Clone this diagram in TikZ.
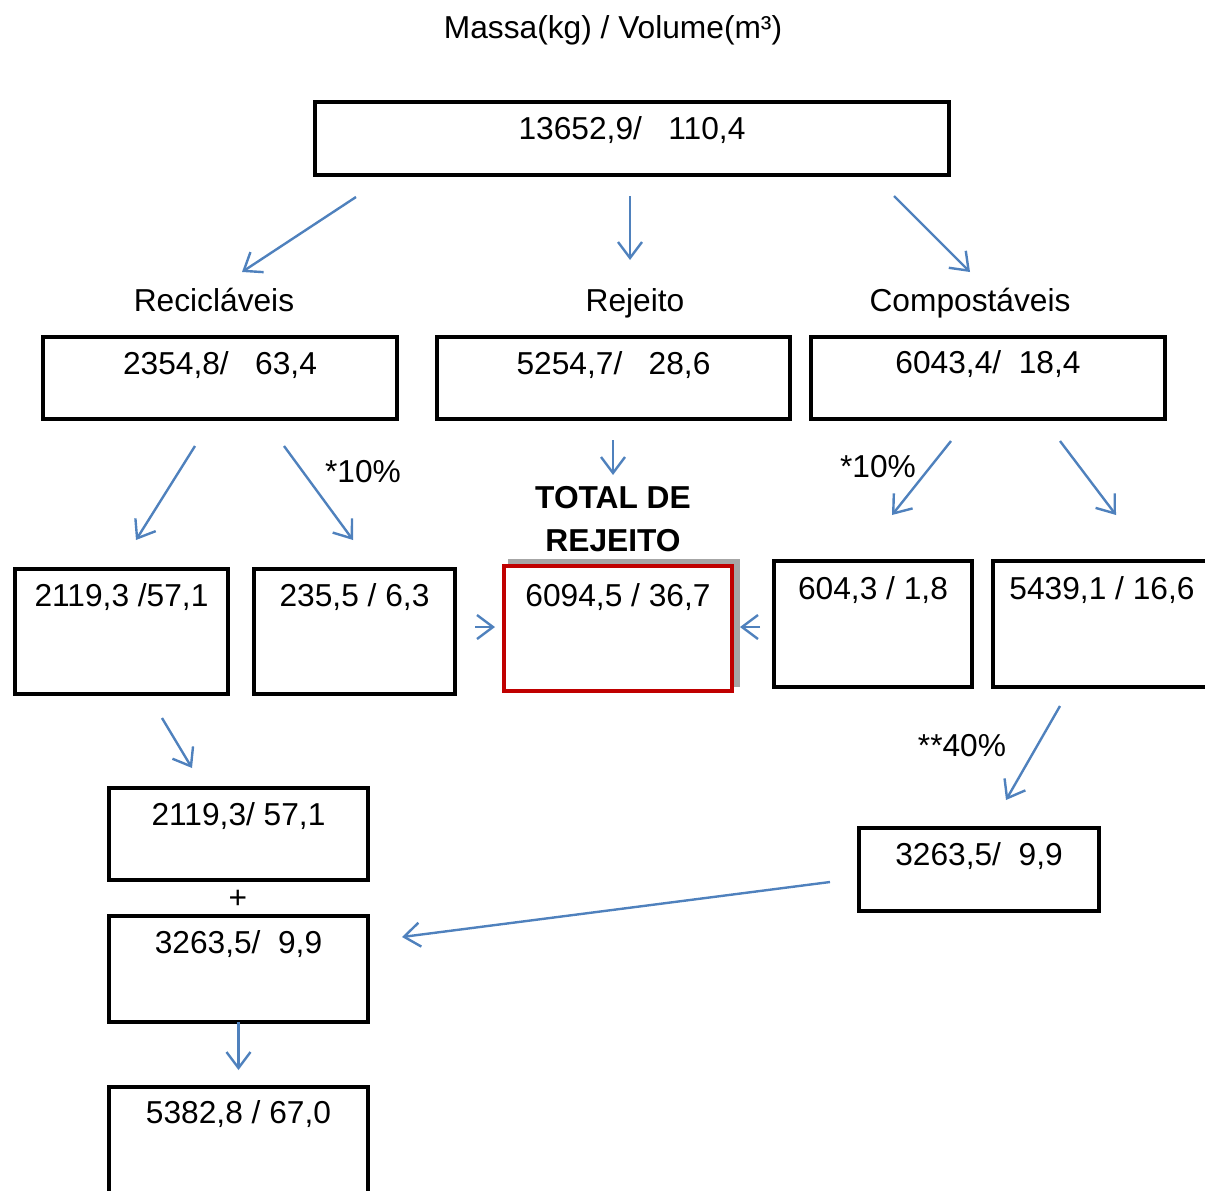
\documentclass[tikz,border=0pt]{standalone}
\usepackage{fontspec}
\setmainfont{Liberation Sans}
\usetikzlibrary{arrows.meta}
\definecolor{FlowBlue}{RGB}{79,129,189}
\definecolor{RejRed}{RGB}{192,0,0}
\definecolor{RejShadow}{RGB}{166,166,166}

\begin{document}
\begin{tikzpicture}[x=1pt, y=-1pt, font=\fontsize{31.7}{38}\selectfont, >={Straight Barb[length=16pt,width=24pt]}]
  \tikzset{
    valbox/.style={draw, line width=4pt, inner sep=0pt, outer sep=0pt, anchor=north west, align=center, fill=white},
    arrow/.style={->, line width=2.4pt, draw=FlowBlue},
    label/.style={inner sep=0pt, anchor=base}
  }
  \useasboundingbox (0,0) rectangle (1205,1191);

  % titles
  \node[label] (title) at (613,38) {Massa(kg) / Volume(m³)};
  \node[label] (lrec) at (214,311) {Recicláveis};
  \node[label] (lrej) at (635,311) {Rejeito};
  \node[label] (lcomp) at (970,311) {Compostáveis};
  \node[label, font=\fontsize{31.7}{38}\selectfont\bfseries] (ltotal1) at (613,508) {TOTAL DE};
  \node[label, font=\fontsize{31.7}{38}\selectfont\bfseries] (ltotal2) at (613,551) {REJEITO};

  % boxes
  \node[valbox, minimum width=634pt, text height=37.5pt, text depth=35.5pt] (total) at (315,102) {13652,9/\ \ \ 110,4};
  \node[valbox, minimum width=354pt, text height=37.5pt, text depth=44.5pt] (rec) at (43,337) {2354,8/\ \ \ 63,4};
  \node[valbox, minimum width=353pt, text height=37.5pt, text depth=44.5pt] (rej) at (437,337) {5254,7/\ \ \ 28,6};
  \node[valbox, minimum width=354pt, text height=36.5pt, text depth=45.5pt] (comp) at (811,337) {6043,4/\ \ 18,4};

  \node[valbox, minimum width=213pt, text height=37.5pt, text depth=87.5pt] (recA) at (15,569) {2119,3 /57,1};
  \node[valbox, minimum width=201pt, text height=37.5pt, text depth=87.5pt] (recB) at (254,569) {235,5 / 6,3};
  \fill[RejShadow] (508,559) rectangle (740,687);
  \node[valbox, draw=RejRed, minimum width=228pt, text height=40.5pt, text depth=84.5pt] (rejtot) at (504,566) {6094,5 / 36,7};
  \node[valbox, minimum width=198pt, text height=38.5pt, text depth=87.5pt] (compA) at (774,561) {604,3 / 1,8};
  \node[valbox, minimum width=218pt, text height=38.5pt, text depth=87.5pt] (compB) at (993,561) {5439,1 / 16,6};

  \node[valbox, minimum width=259pt, text height=37.5pt, text depth=54.5pt] (recC) at (109,788) {2119,3/ 57,1};
  \node[inner sep=0pt] (plus) at (238,899) {+};
  \node[valbox, minimum width=259pt, text height=37.5pt, text depth=68.5pt] (recD) at (109,916) {3263,5/\ \ 9,9};
  \node[valbox, minimum width=259pt, text height=36.5pt, text depth=80pt] (recE) at (109,1087) {5382,8 / 67,0};
  \node[valbox, minimum width=240pt, text height=37.5pt, text depth=45.5pt] (compC) at (859,828) {3263,5/\ \ 9,9};

  % percentages
  \node[label] (prec) at (363,482) {*10\%};
  \node[label] (pcomp) at (878,477) {*10\%};
  \node[label] (pcomp2) at (962,756) {**40\%};

  % arrow ends
  \coordinate (t1) at (356,197); \coordinate (t1e) at (242,272);
  \coordinate (t2) at (630,196); \coordinate (t2e) at (630,260);
  \coordinate (t3) at (894,196); \coordinate (t3e) at (970,272);
  \coordinate (r1) at (195,446); \coordinate (r1e) at (136,540);
  \coordinate (r2) at (284,446); \coordinate (r2e) at (353,540);
  \coordinate (j1) at (613,440); \coordinate (j1e) at (613,475);
  \coordinate (c1) at (951,441); \coordinate (c1e) at (892,515);
  \coordinate (c2) at (1060,441); \coordinate (c2e) at (1116,515);
  \coordinate (in1) at (475,627); \coordinate (in1e) at (495,627);
  \coordinate (in2) at (760,627); \coordinate (in2e) at (740,627);
  \coordinate (a1) at (162,718); \coordinate (a1e) at (192,768);
  \coordinate (a2) at (1060,706); \coordinate (a2e) at (1006,800);
  \coordinate (a3) at (830,882); \coordinate (a3e) at (402,937);

  \draw[arrow] (t1) -- (t1e);
  \draw[arrow] (t2) -- (t2e);
  \draw[arrow] (t3) -- (t3e);
  \draw[arrow] (r1) -- (r1e);
  \draw[arrow] (r2) -- (r2e);
  \draw[arrow] (j1) -- (j1e);
  \draw[arrow] (c1) -- (c1e);
  \draw[arrow] (c2) -- (c2e);
  \draw[arrow] (in1) -- (in1e);
  \draw[arrow] (in2) -- (in2e);
  \draw[arrow] (a1) -- (a1e);
  \draw[arrow] (a2) -- (a2e);
  \draw[arrow] (a3) -- (a3e);
  \draw[arrow] (recD.south) -- ++(0,48);
\end{tikzpicture}
\end{document}
